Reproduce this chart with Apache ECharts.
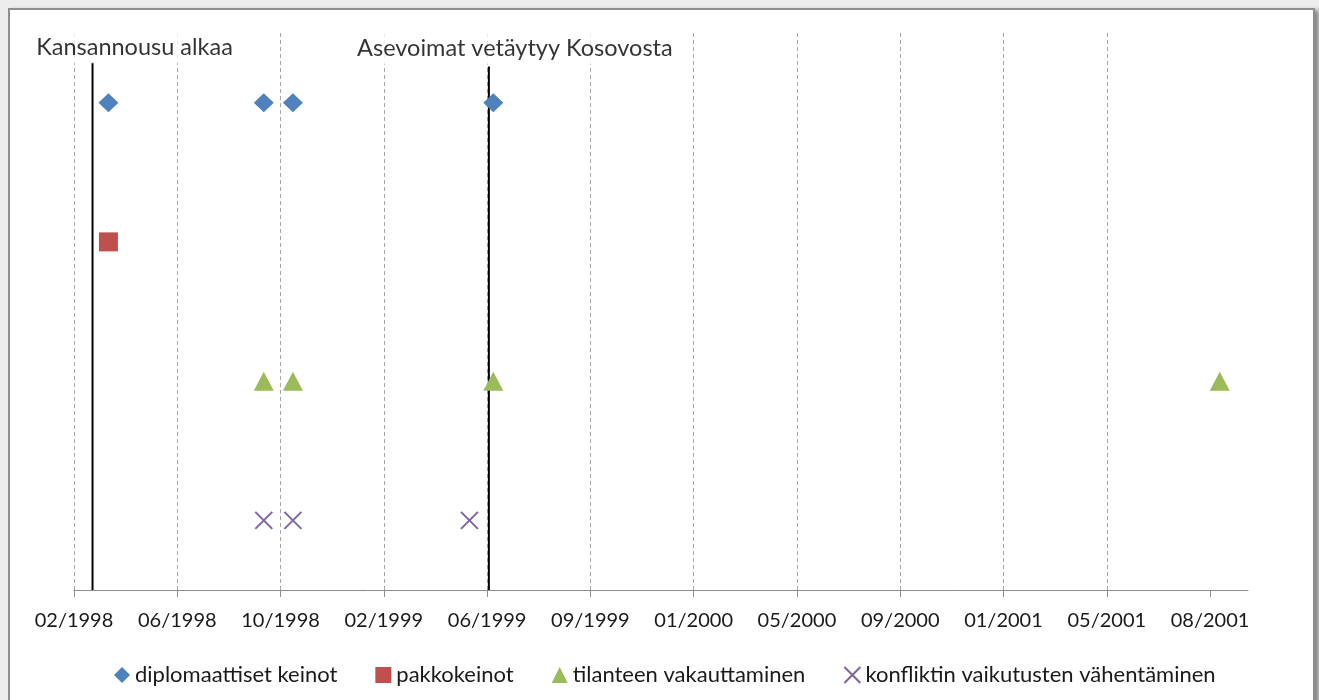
<!DOCTYPE html>
<html>
<head>
<meta charset="utf-8">
<title>Kosovo 1998–2001</title>
<script src="https://cdn.jsdelivr.net/npm/echarts@6/dist/echarts.min.js"></script>
<style>
  html, body { margin: 0; padding: 0; width: 1319px; height: 700px; overflow: hidden; background: #ededed; }
  #frame {
    position: absolute; left: 8px; top: 8px; width: 1303px; height: 720px;
    background: #ffffff; border: 2px solid #8e8e8e;
    box-shadow: 4px 2px 4px #8a8a8a;
  }
  #chart { position: absolute; left: 0; top: 0; width: 1319px; height: 700px; }
</style>
</head>
<body>
<div id="frame"></div>
<div id="chart"></div>
<script>
// Time axis: day offsets from the axis start, one tick every 117 days
const axisStart = '1998-02-20';
const axisEnd = '2001-10-12';
const tickStepDays = 117;
const tickLabels = ['02/1998', '06/1998', '10/1998', '02/1999', '06/1999', '09/1999',
                    '01/2000', '05/2000', '09/2000', '01/2001', '05/2001', '08/2001'];

// Measure groups (one row each) and the dates of each measure
const seriesNames = ['diplomaattiset keinot', 'pakkokeinot', 'tilanteen vakauttaminen',
                     'konfliktin vaikutusten vähentäminen'];
const rowValues = [3.5, 2.5, 1.5, 0.5];
const diplomaattisetDates = ['1998-03-31', '1998-09-23', '1998-10-26', '1999-06-10'];
const pakkokeinotDates = ['1998-03-31'];
const vakauttaminenDates = ['1998-09-23', '1998-10-26', '1999-06-10', '2001-09-10'];
const vahentaminenDates = ['1998-09-23', '1998-10-26', '1999-05-14'];

// Key events drawn as vertical lines
const eventNames = ['Kansannousu alkaa', 'Asevoimat vetäytyy Kosovosta'];
const eventDates = ['1998-03-13', '1999-06-05'];
const eventTops = [3.79, 3.76];

const colors = ['#4F81BD', '#C0504D', '#9BBB59', '#8064A2'];
const FONT = 'Lato';
const DAY = 86400000;

function dayOffset(s) {
  return (Date.parse(s + 'T00:00:00Z') - Date.parse(axisStart + 'T00:00:00Z')) / DAY;
}

const tickValues = tickLabels.map((_, k) => k * tickStepDays);

const groupDates = [diplomaattisetDates, pakkokeinotDates, vakauttaminenDates, vahentaminenDates];
const symbols = ['diamond', 'rect', 'triangle', 'path://M0,0L10,10M10,0L0,10'];
const symbolSizes = [[20, 19], [19, 19], [20, 19], [17, 17]];

const scatterSeries = seriesNames.map((name, i) => ({
  name: name,
  type: 'scatter',
  z: 5,
  symbol: symbols[i],
  symbolSize: symbolSizes[i],
  itemStyle: i === 3
    ? { color: 'rgba(0,0,0,0)', borderColor: colors[i], borderWidth: 2, opacity: 1 }
    : { color: colors[i], opacity: 1 },
  emphasis: { disabled: true },
  data: groupDates[i].map(d => [dayOffset(d), rowValues[i]])
}));

// Event captions sit in white boxes above their lines
const labelOffsets = [[42, -15], [26, -18]];

const eventSeries = [];
eventNames.forEach((name, i) => {
  const x = dayOffset(eventDates[i]);
  eventSeries.push({
    name: name,
    type: 'line',
    z: 4,
    symbol: 'none',
    lineStyle: { color: '#000000', width: 2 },
    emphasis: { disabled: true },
    data: [[x, 0], [x, eventTops[i]]]
  });
  eventSeries.push({
    name: name + ' label',
    type: 'scatter',
    z: 6,
    symbol: 'circle',
    symbolSize: 1,
    itemStyle: { color: 'rgba(0,0,0,0)' },
    label: {
      show: true,
      position: 'inside',
      offset: labelOffsets[i],
      formatter: name,
      fontFamily: FONT,
      fontSize: 23.5,
      color: '#000000',
      backgroundColor: '#ffffff',
      padding: [0, 5, 8, 5]
    },
    emphasis: { disabled: true },
    data: [[x, eventTops[i]]]
  });
});

const chart = echarts.init(document.getElementById('chart'), null, { renderer: 'canvas' });
chart.setOption({
  backgroundColor: 'transparent',
  animation: false,
  textStyle: { fontFamily: FONT },
  grid: { left: 74, right: 71, top: 33, bottom: 110, containLabel: false },
  xAxis: {
    type: 'value',
    min: 0,
    max: dayOffset(axisEnd),
    interval: tickStepDays,
    axisLine: { show: true, lineStyle: { color: '#8c8c8c', width: 1 } },
    axisTick: { show: true, length: 7, customValues: tickValues, lineStyle: { color: '#8c8c8c' } },
    splitLine: { show: true, showMaxLine: false, lineStyle: { color: '#a6a6a6', width: 1, type: [4, 3] } },
    axisLabel: {
      margin: 21,
      fontFamily: FONT,
      fontSize: 20,
      color: '#1a1a1a',
      customValues: tickValues,
      formatter: function (v) {
        const k = Math.round(v / tickStepDays);
        return tickLabels[k] || '';
      }
    }
  },
  yAxis: {
    type: 'value',
    min: 0,
    max: 4,
    show: false
  },
  legend: {
    data: seriesNames,
    left: 109,
    top: 659,
    itemWidth: 16,
    itemHeight: 16,
    itemGap: 38,
    textStyle: { fontFamily: FONT, fontSize: 22, color: '#1a1a1a' }
  },
  series: scatterSeries.concat(eventSeries)
});
</script>
</body>
</html>
